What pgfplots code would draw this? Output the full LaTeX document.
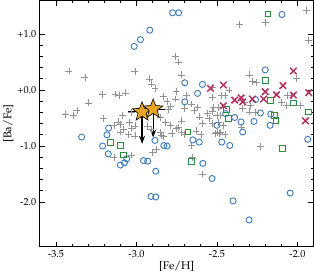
\documentclass[border=0pt]{standalone}
\usepackage[T1]{fontenc}
\usepackage{mathpazo}
\usepackage{pgfplots}
\pgfplotsset{compat=1.18}
\usetikzlibrary{arrows.meta}
\definecolor{cblue}{HTML}{3D7CBC}
\definecolor{cgreen}{HTML}{2A9040}
\definecolor{cred}{HTML}{B0325C}
\definecolor{cgray}{HTML}{939393}
\definecolor{cgold}{HTML}{E8A524}
\pgfdeclareplotmark{fstar}{%
  \pgfpathmoveto{\pgfqpointpolar{90}{\pgfplotmarksize}}%
  \pgfpathlineto{\pgfqpointpolar{126}{0.42\pgfplotmarksize}}%
  \pgfpathlineto{\pgfqpointpolar{162}{\pgfplotmarksize}}%
  \pgfpathlineto{\pgfqpointpolar{198}{0.42\pgfplotmarksize}}%
  \pgfpathlineto{\pgfqpointpolar{234}{\pgfplotmarksize}}%
  \pgfpathlineto{\pgfqpointpolar{270}{0.42\pgfplotmarksize}}%
  \pgfpathlineto{\pgfqpointpolar{306}{\pgfplotmarksize}}%
  \pgfpathlineto{\pgfqpointpolar{342}{0.42\pgfplotmarksize}}%
  \pgfpathlineto{\pgfqpointpolar{18}{\pgfplotmarksize}}%
  \pgfpathlineto{\pgfqpointpolar{54}{0.42\pgfplotmarksize}}%
  \pgfpathclose
  \pgfusepathqfillstroke}
\begin{document}
\begin{tikzpicture}
\begin{axis}[
  scale only axis, width=270pt, height=243pt,
  xmin=-3.6, xmax=-1.9, ymin=-2.8, ymax=1.6,
  xtick={-3.5,-3.0,-2.5,-2.0}, xticklabels={-3.5,-3.0,-2.5,-2.0},
  ytick={-2,-1,0,1}, yticklabels={-2.0,-1.0,+0.0,+1.0},
  minor x tick num=4, minor y tick num=4,
  tick align=inside, major tick length=5pt, minor tick length=3pt,
  every tick/.style={black, line width=0.7pt},
  axis line style={line width=0.9pt},
  tick label style={font=\fontsize{10}{12}\selectfont},
  label style={font=\fontsize{11}{13}\selectfont},
  xlabel={[Fe/H]}, ylabel={[Ba/Fe]},
  xlabel style={yshift=3pt}, ylabel style={yshift=-3pt},
  clip=true,
]
% field stars (plus)
\addplot[only marks, mark=+, mark size=3.4pt, cgray, line width=0.6pt] table {
x y
-1.944 1.42
-1.93 0.88
-2.36 1.17
-2.20 1.21
-2.756 0.60
-2.74 0.50
-2.72 0.27
-3.42 0.34
-3.32 0.23
-3.01 0.33
-2.917 0.20
-2.906 0.11
-2.885 0.03
-2.30 0.27
-2.28 0.15
-2.256 0.14
-2.008 0.21
-2.425 0.00
-3.21 -0.085
-3.133 -0.07
-3.104 -0.10
-3.07 -0.05
-3.30 -0.23
-3.44 -0.43
-3.39 -0.46
-3.37 -0.36
-3.204 -0.51
-3.086 -0.45
-3.11 -0.57
-3.14 -0.63
-3.10 -0.61
-3.10 -0.75
-3.045 -0.58
-3.14 -1.20
-3.03 -1.16
-2.90 -1.12
-2.876 -1.06
-2.754 -0.03
-2.81 -0.21
-2.69 -0.09
-2.70 -0.33
-2.64 -0.36
-2.80 -0.35
-2.61 -0.48
-2.56 -0.42
-2.55 -0.51
-2.59 -0.60
-2.53 -0.60
-3.03 -0.69
-2.85 -0.75
-2.83 -0.83
-2.75 -0.69
-2.72 -0.55
-2.70 -0.79
-2.60 -0.79
-2.51 -0.78
-2.485 -0.78
-2.78 -0.78
-2.845 -0.81
-2.66 -0.99
-2.65 -1.20
-2.59 -1.50
-2.23 -1.01
-2.47 -0.09
-2.10 -0.22
-2.07 -0.28
-2.04 -0.09
-2.30 -0.39
-2.26 -0.40
-2.29 -0.28
-2.34 -0.33
-2.48 -0.45
-2.46 -0.63
-2.35 -0.66
-2.48 -0.75
-3.03 -0.40
-3.01 -0.64
-3.08 -0.70
-2.83 -0.11
-2.79 -0.29
-2.76 -0.16
-2.66 -0.25
-2.62 -0.31
-2.85 -0.49
-2.82 -0.58
-2.79 -0.63
-2.74 -0.67
-2.72 -0.76
-2.93 -0.64
-2.91 -0.70
-3.05 -0.79
-3.01 -0.82
-2.63 -0.73
-2.49 -0.58
-2.53 0.05
-2.53 -0.13
-2.45 -0.10
-2.33 -0.22
-2.52 -0.31
-2.49 -0.31
-2.53 -0.38
-2.50 -0.46
-2.50 -0.76
-2.45 -0.79
-2.06 -0.10
-1.98 -0.27
};
% open circles
\addplot[only marks, mark=o, mark size=3pt, cblue, line width=0.9pt] table {
x y
-2.775 1.38
-2.7375 1.38
-2.917 1.07
-2.975 0.90
-3.014 0.78
-2.096 1.35
-2.20 0.36
-2.70 0.13
-2.59 0.10
-2.62 -0.06
-2.70 -0.21
-2.26 -0.17
-2.50 -0.63
-2.446 -0.42
-2.39 -0.49
-2.35 -0.57
-2.34 -0.75
-2.27 -0.56
-2.23 -0.41
-2.166 -0.43
-2.17 -0.63
-1.936 -0.88
-2.47 -0.93
-2.42 -0.99
-2.65 -0.89
-2.61 -0.93
-2.885 -0.90
-2.83 -0.99
-2.81 -1.00
-3.34 -0.84
-3.21 -1.00
-3.173 -0.68
-3.183 -0.80
-3.175 -1.14
-3.10 -1.34
-3.075 -1.30
-3.06 -1.23
-2.956 -1.26
-2.93 -1.27
-2.88 -1.45
-2.91 -1.90
-2.88 -1.91
-2.5875 -1.31
-2.53 -1.58
-2.40 -1.98
-2.30 -2.32
-2.045 -1.84
};
% open squares
\addplot[only marks, mark=square, mark size=2.8pt, cgreen, line width=1pt] table {
x y
-2.183 1.36
-2.20 0.17
-2.166 -0.19
-2.025 -0.23
-1.93 -0.39
-2.44 -0.35
-2.43 -0.51
-2.144 -0.45
-2.133 -0.55
-2.094 -1.04
-2.68 -0.75
-2.66 -1.28
-3.16 -0.94
-3.10 -0.99
-3.08 -1.16
};
% crosses
\addplot[only marks, mark=x, mark size=4.5pt, cred, line width=1.5pt] table {
x y
-2.54 0.03
-2.46 0.09
-2.46 -0.28
-2.39 -0.18
-2.35 -0.14
-2.34 -0.21
-2.28 -0.16
-2.20 -0.03
-2.21 -0.16
-2.13 -0.085
-2.09 0.08
-2.025 0.34
-2.025 -0.09
-1.93 -0.045
-1.95 -0.55
};
% upper-limit arrows
\addplot[quiver={u=\thisrow{u}, v=\thisrow{v}}, -{Stealth[length=8pt,width=6pt]}, black, line width=1.3pt] table {
x y u v
-2.965 -0.39 0 -0.57
-2.896 -0.34 0 -0.51
};
% horizontal error bars
\addplot[only marks, mark=none, draw=none,
  error bars/.cd, x dir=both, x explicit, error mark=none,
  error bar style={black, line width=1pt}] table[x error=ex] {
x y ex
-2.965 -0.39 0.085
-2.896 -0.34 0.085
};
% stars
\addplot[only marks, mark=fstar, mark size=10pt, mark options={fill=cgold, draw=black, line width=0.6pt}] table {
x y
-2.965 -0.39
-2.896 -0.34
};
\end{axis}
\end{tikzpicture}
\end{document}
